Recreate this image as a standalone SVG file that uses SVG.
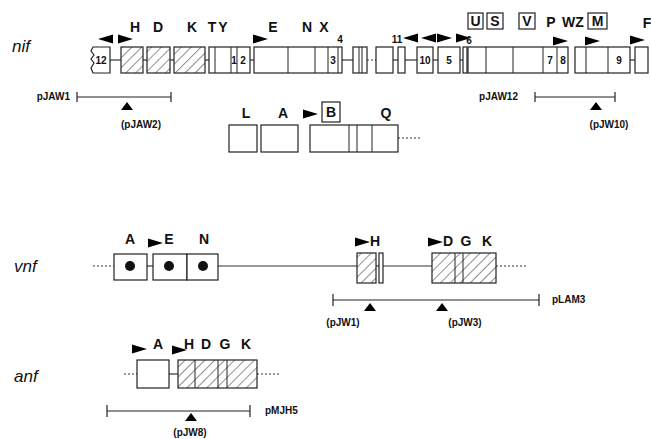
<svg xmlns="http://www.w3.org/2000/svg" width="651" height="439" viewBox="0 0 651 439">
<defs>
<pattern id="hatch" patternUnits="userSpaceOnUse" width="7" height="7" patternTransform="rotate(45)">
<rect width="7" height="7" fill="#fff"/>
<line x1="0" y1="0" x2="0" y2="7" stroke="#222" stroke-width="1"/>
</pattern>
<path id="ar" d="M0,-4.5 L15,0 L0,4.5 Z"/>
<path id="al" d="M15,-4.5 L0,0 L15,4.5 Z"/>
<path id="tri" d="M-6,0 L0,-8 L6,0 Z"/>
</defs>
<style>
.bx{fill:#fff;stroke:#222;stroke-width:1.2}
.hx{fill:url(#hatch);stroke:#222;stroke-width:1.2}
.dv{stroke:#222;stroke-width:1}
.ln{stroke:#333;stroke-width:1.2;fill:none}
.dot{stroke:#333;stroke-width:1;stroke-dasharray:2,2;fill:none}
.g{font-family:"Liberation Sans",Arial,sans-serif;font-weight:bold;font-size:14px;fill:#111;text-anchor:middle}
.n{font-family:"Liberation Sans",Arial,sans-serif;font-weight:bold;font-size:10px;fill:#111;text-anchor:middle}
.p{font-family:"Liberation Sans",Arial,sans-serif;font-weight:bold;font-size:10px;fill:#111}
.sp{font-family:"Liberation Sans",Arial,sans-serif;font-style:italic;font-size:17px;fill:#111}
.tk{stroke:#222;stroke-width:1.2}
</style>
<rect width="651" height="439" fill="#fff"/>

<!-- species labels -->
<text class="sp" x="12" y="52">nif</text>
<text class="sp" x="14" y="272">vnf</text>
<text class="sp" x="14" y="382">anf</text>

<g id="connectors">
<line class="ln" x1="110" y1="60" x2="121" y2="60"/>
<line class="ln" x1="143" y1="60" x2="147" y2="60"/>
<line class="ln" x1="170" y1="60" x2="174" y2="60"/>
<line class="ln" x1="205" y1="60" x2="209" y2="60"/>
<line class="ln" x1="250" y1="60" x2="254" y2="60"/>
<line class="ln" x1="342" y1="60" x2="353" y2="60"/>
<line class="dot" x1="367" y1="60" x2="376" y2="60"/>
<line class="ln" x1="393" y1="60" x2="398" y2="60"/>
<line class="ln" x1="405" y1="60" x2="417" y2="60"/>
<line class="ln" x1="433" y1="60" x2="438" y2="60"/>
<line class="ln" x1="460" y1="60" x2="463" y2="60"/>
<line class="ln" x1="630" y1="60" x2="635" y2="60"/>
<line class="dot" x1="398" y1="138" x2="422" y2="138"/>
<line class="dot" x1="93" y1="266" x2="114" y2="266"/>
<line class="ln" x1="147" y1="266" x2="153" y2="266"/>
<line class="ln" x1="218" y1="266" x2="357" y2="266"/>
<line class="ln" x1="376" y1="266" x2="379" y2="266"/>
<line class="ln" x1="383" y1="266" x2="432" y2="266"/>
<line class="dot" x1="496" y1="266" x2="527" y2="266"/>
<line class="dot" x1="124" y1="374" x2="137" y2="374"/>
<line class="ln" x1="169" y1="374" x2="178" y2="374"/>
<line class="dot" x1="257" y1="374" x2="281" y2="374"/>
</g>

<g id="nif12">
<path class="bx" d="M110,47 L93,47 L91,51 L94,55 L91,59 L94,63 L91,68 L93,73 L110,73 Z"/>
<text class="n" x="101" y="64">12</text>
</g>
<g id="nifH"><rect class="hx" x="121" y="47" width="22" height="26"/></g>
<g id="nifD"><rect class="hx" x="147" y="47" width="23" height="26"/></g>
<g id="nifK"><rect class="hx" x="174" y="47" width="31" height="26"/></g>
<g id="nifTY">
<rect class="bx" x="209" y="47" width="41" height="26"/>
<line class="dv" x1="215" y1="47" x2="215" y2="73"/>
<line class="dv" x1="231" y1="47" x2="231" y2="73"/>
<line class="dv" x1="237" y1="47" x2="237" y2="73"/>
<text class="n" x="234" y="64">1</text>
<text class="n" x="243" y="64">2</text>
</g>
<g id="nifENX">
<rect class="bx" x="254" y="47" width="88" height="26"/>
<line class="dv" x1="288" y1="47" x2="288" y2="73"/>
<line class="dv" x1="315" y1="47" x2="315" y2="73"/>
<line class="dv" x1="328" y1="47" x2="328" y2="73"/>
<line class="dv" x1="338" y1="47" x2="338" y2="73"/>
<text class="n" x="333" y="64">3</text>
</g>
<g id="nifU1">
<rect class="bx" x="353" y="47" width="14" height="26"/>
<line class="dv" x1="359" y1="47" x2="359" y2="73"/>
<line class="dv" x1="362" y1="47" x2="362" y2="73"/>
</g>
<g id="nifU2"><rect class="bx" x="376" y="47" width="17" height="26"/></g>
<g id="nif11"><rect class="bx" x="398" y="47" width="7" height="26"/></g>
<g id="nif10"><rect class="bx" x="417" y="47" width="16" height="26"/><text class="n" x="425" y="64">10</text></g>
<g id="nif5"><rect class="bx" x="438" y="47" width="22" height="26"/><text class="n" x="449" y="64">5</text></g>
<g id="nif6"><rect class="bx" x="463" y="47" width="4" height="26" stroke-width="1.6"/></g>
<g id="nifUSV">
<rect class="bx" x="468" y="47" width="100" height="26"/>
<line class="dv" x1="486" y1="47" x2="486" y2="73"/>
<line class="dv" x1="513" y1="47" x2="513" y2="73"/>
<line class="dv" x1="543" y1="47" x2="543" y2="73"/>
<line class="dv" x1="557" y1="47" x2="557" y2="73"/>
<text class="n" x="550" y="64">7</text>
<text class="n" x="563" y="64">8</text>
</g>
<g id="nifWZM">
<rect class="bx" x="575" y="47" width="55" height="26"/>
<line class="dv" x1="586" y1="47" x2="586" y2="73"/>
<line class="dv" x1="608" y1="47" x2="608" y2="73"/>
<text class="n" x="619" y="64">9</text>
</g>
<g id="nifF"><rect class="bx" x="635" y="47" width="13" height="26"/></g>

<g id="nif-labels">
<text class="g" x="135" y="32">H</text>
<text class="g" x="158" y="32">D</text>
<text class="g" x="192" y="32">K</text>
<text class="g" x="212" y="32">T</text>
<text class="g" x="223" y="32">Y</text>
<text class="g" x="273" y="32">E</text>
<text class="g" x="307" y="32">N</text>
<text class="g" x="324" y="32">X</text>
<rect class="bx" x="468" y="13" width="15" height="16"/><text class="g" x="475.5" y="26">U</text>
<rect class="bx" x="487" y="13" width="16" height="16"/><text class="g" x="495" y="26">S</text>
<rect class="bx" x="519" y="13" width="16" height="16"/><text class="g" x="527" y="26">V</text>
<text class="g" x="551" y="27" font-size="12">P</text>
<text class="g" x="573" y="27">WZ</text>
<rect class="bx" x="588" y="13" width="19" height="16"/><text class="g" x="597.5" y="26">M</text>
<text class="g" x="647" y="28">F</text>
<text class="p" x="340" y="43" text-anchor="middle" font-size="9">4</text>
<text class="p" x="397" y="43" text-anchor="middle">11</text>
<text class="p" x="469" y="44" text-anchor="middle" font-size="9">6</text>
<use href="#al" x="98" y="39"/>
<use href="#ar" x="118" y="39"/>
<use href="#ar" x="253" y="39"/>
<use href="#al" x="403" y="38"/>
<use href="#al" x="421" y="38"/>
<use href="#ar" x="437" y="38"/>
<use href="#ar" x="456" y="38"/>
<use href="#ar" x="553" y="41"/>
<use href="#ar" x="585" y="41"/>
<use href="#ar" x="630" y="40"/>
</g>

<g id="pJAW1">
<text class="p" x="70" y="100" text-anchor="end">pJAW1</text>
<line class="tk" x1="77" y1="97" x2="171" y2="97"/>
<line class="tk" x1="77" y1="92" x2="77" y2="102"/>
<line class="tk" x1="171" y1="92" x2="171" y2="102"/>
<use href="#tri" x="127" y="110"/>
<text class="p" x="141" y="128" text-anchor="middle">(pJAW2)</text>
</g>
<g id="pJAW12">
<text class="p" x="518" y="100" text-anchor="end">pJAW12</text>
<line class="tk" x1="535" y1="97" x2="615" y2="97"/>
<line class="tk" x1="535" y1="92" x2="535" y2="102"/>
<line class="tk" x1="615" y1="92" x2="615" y2="102"/>
<use href="#tri" x="596" y="110"/>
<text class="p" x="609" y="128" text-anchor="middle">(pJW10)</text>
</g>

<g id="nifL"><rect class="bx" x="229" y="125" width="28" height="27"/><text class="g" x="246" y="118">L</text></g>
<g id="nifA"><rect class="bx" x="261" y="125" width="37" height="27"/><text class="g" x="283" y="118">A</text></g>
<g id="nifBQ">
<rect class="bx" x="310" y="125" width="88" height="27"/>
<line class="dv" x1="349" y1="125" x2="349" y2="152"/>
<line class="dv" x1="357" y1="125" x2="357" y2="152"/>
<line class="dv" x1="372" y1="125" x2="372" y2="152"/>
<use href="#ar" x="303" y="114"/>
<rect class="bx" x="322" y="102" width="18" height="20"/><text class="g" x="331" y="117">B</text>
<text class="g" x="386" y="118">Q</text>
</g>

<g id="vnfA"><rect class="bx" x="114" y="254" width="33" height="26"/><circle cx="130" cy="266" r="5" fill="#111"/><text class="g" x="130" y="244">A</text></g>
<g id="vnfE"><rect class="bx" x="153" y="254" width="34" height="26"/><circle cx="169" cy="266" r="5" fill="#111"/><text class="g" x="169" y="244">E</text><use href="#ar" x="148" y="243"/></g>
<g id="vnfN"><rect class="bx" x="187" y="254" width="31" height="26"/><circle cx="203" cy="266" r="5" fill="#111"/><text class="g" x="204" y="244">N</text></g>
<g id="vnfH">
<rect class="hx" x="357" y="253" width="19" height="30"/>
<rect class="bx" x="379" y="253" width="4" height="30"/>
<use href="#ar" x="355" y="242"/>
<text class="g" x="375" y="246">H</text>
</g>
<g id="vnfDGK">
<rect class="hx" x="432" y="253" width="64" height="30"/>
<line class="dv" x1="455" y1="253" x2="455" y2="283"/>
<line class="dv" x1="463" y1="253" x2="463" y2="283"/>
<use href="#ar" x="428" y="242"/>
<text class="g" x="448" y="246">D</text>
<text class="g" x="466" y="246">G</text>
<text class="g" x="487" y="246">K</text>
</g>
<g id="pLAM3">
<line class="tk" x1="333" y1="300" x2="539" y2="300"/>
<line class="tk" x1="333" y1="294" x2="333" y2="306"/>
<line class="tk" x1="539" y1="294" x2="539" y2="306"/>
<text class="p" x="552" y="303">pLAM3</text>
<use href="#tri" x="370" y="311"/>
<use href="#tri" x="442" y="311"/>
<text class="p" x="343" y="326" text-anchor="middle">(pJW1)</text>
<text class="p" x="465" y="326" text-anchor="middle">(pJW3)</text>
</g>

<g id="anfA"><rect class="bx" x="137" y="360" width="32" height="28"/><use href="#ar" x="132" y="349"/><text class="g" x="158" y="349">A</text></g>
<g id="anfHDGK">
<rect class="hx" x="178" y="360" width="79" height="28"/>
<line class="dv" x1="195" y1="360" x2="195" y2="388"/>
<line class="dv" x1="218" y1="360" x2="218" y2="388"/>
<line class="dv" x1="227" y1="360" x2="227" y2="388"/>
<use href="#ar" x="172" y="350"/>
<text class="g" x="189" y="349">H</text>
<text class="g" x="206" y="349">D</text>
<text class="g" x="225" y="349">G</text>
<text class="g" x="246" y="349">K</text>
</g>
<g id="pMJH5">
<line class="tk" x1="107" y1="411" x2="250" y2="411"/>
<line class="tk" x1="107" y1="405" x2="107" y2="417"/>
<line class="tk" x1="250" y1="405" x2="250" y2="417"/>
<text class="p" x="265" y="414">pMJH5</text>
<use href="#tri" x="191" y="421"/>
<text class="p" x="190" y="436" text-anchor="middle">(pJW8)</text>
</g>
</svg>
